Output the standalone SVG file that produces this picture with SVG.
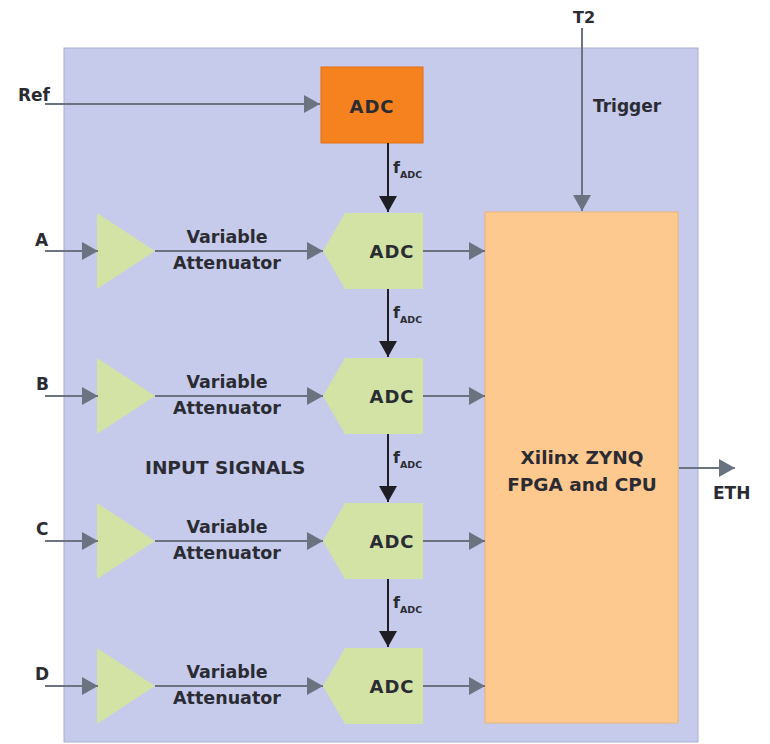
<svg xmlns="http://www.w3.org/2000/svg" width="770" height="744" viewBox="0 0 770 744">
<style>
text{font-family:"DejaVu Sans","Liberation Sans",sans-serif;fill:#2b2b33;font-weight:700}
.lbl{font-size:17px}
.att{font-size:17.5px;text-anchor:middle;font-weight:600}
.adc{font-size:18px;text-anchor:middle;letter-spacing:1px}
.big{font-size:18.5px;text-anchor:middle}
.g{stroke:#6b7380;stroke-width:2;fill:none}
.k{stroke:#1e1e24;stroke-width:2;fill:none}
.amp{fill:#d3e3a6}
.f{font-size:16px}
.sub{font-size:9.5px}
</style>
<defs>
<marker id="ag" markerUnits="userSpaceOnUse" markerWidth="18" markerHeight="20" refX="16" refY="9" orient="auto"><path d="M0,0 L16,9 L0,18 Z" fill="#6b7380"/></marker>
<marker id="ak" markerUnits="userSpaceOnUse" markerWidth="18" markerHeight="20" refX="16" refY="9" orient="auto"><path d="M0,0 L16,9 L0,18 Z" fill="#1e1e24"/></marker>
</defs>
<rect id="board" x="64" y="48" width="634" height="694" fill="#c6cbeb" stroke="#aab0d6" stroke-width="1"/>
<g id="fpga"><rect x="485" y="212" width="193" height="511" fill="#fdc98f" stroke="#e8b47a" stroke-width="1"/>
<text class="big" x="582" y="464">Xilinx ZYNQ</text><text class="big" x="582" y="491">FPGA and CPU</text></g>
<g id="refadc"><rect x="321" y="67" width="102" height="76" fill="#f5821f" stroke="#e07010" stroke-width="1"/><text class="adc" x="372" y="113">ADC</text></g>
<g id="rowA"><polygon class="amp" points="97,213 155,251 97,289"/><polygon class="amp" points="323,251 345,213 423,213 423,289 345,289"/><text class="adc" x="392" y="258">ADC</text></g>
<g id="rowB"><polygon class="amp" points="97,358 155,396 97,434"/><polygon class="amp" points="323,396 345,358 423,358 423,434 345,434"/><text class="adc" x="392" y="403">ADC</text></g>
<g id="rowC"><polygon class="amp" points="97,503 155,541 97,579"/><polygon class="amp" points="323,541 345,503 423,503 423,579 345,579"/><text class="adc" x="392" y="548">ADC</text></g>
<g id="rowD"><polygon class="amp" points="97,648 155,686 97,724"/><polygon class="amp" points="323,686 345,648 423,648 423,724 345,724"/><text class="adc" x="392" y="693">ADC</text></g>
<g id="connectors">
<line class="g" x1="45" y1="104" x2="320" y2="104" marker-end="url(#ag)"/>
<line class="g" x1="582" y1="28" x2="582" y2="211" marker-end="url(#ag)"/>
<line class="g" x1="679" y1="468" x2="735" y2="468" marker-end="url(#ag)"/>
<line class="k" x1="388" y1="143" x2="388" y2="212" marker-end="url(#ak)"/>
<line class="k" x1="388" y1="289" x2="388" y2="357" marker-end="url(#ak)"/>
<line class="k" x1="388" y1="434" x2="388" y2="502" marker-end="url(#ak)"/>
<line class="k" x1="388" y1="579" x2="388" y2="647" marker-end="url(#ak)"/>
<line class="g" x1="45" y1="251" x2="98" y2="251" marker-end="url(#ag)"/>
<line class="g" x1="155" y1="251" x2="323" y2="251" marker-end="url(#ag)"/>
<line class="g" x1="423" y1="251" x2="485" y2="251" marker-end="url(#ag)"/>
<line class="g" x1="45" y1="396" x2="98" y2="396" marker-end="url(#ag)"/>
<line class="g" x1="155" y1="396" x2="323" y2="396" marker-end="url(#ag)"/>
<line class="g" x1="423" y1="396" x2="485" y2="396" marker-end="url(#ag)"/>
<line class="g" x1="45" y1="541" x2="98" y2="541" marker-end="url(#ag)"/>
<line class="g" x1="155" y1="541" x2="323" y2="541" marker-end="url(#ag)"/>
<line class="g" x1="423" y1="541" x2="485" y2="541" marker-end="url(#ag)"/>
<line class="g" x1="45" y1="686" x2="98" y2="686" marker-end="url(#ag)"/>
<line class="g" x1="155" y1="686" x2="323" y2="686" marker-end="url(#ag)"/>
<line class="g" x1="423" y1="686" x2="485" y2="686" marker-end="url(#ag)"/>
</g>
<g id="labels">
<text class="lbl" x="18" y="101">Ref</text>
<text class="lbl" x="573" y="23" style="font-size:16px">T2</text>
<text class="lbl" x="593" y="112">Trigger</text>
<text class="lbl" x="713" y="499">ETH</text>
<text class="lbl" x="35" y="246">A</text>
<text class="lbl" x="36" y="390">B</text>
<text class="lbl" x="36" y="535">C</text>
<text class="lbl" x="35" y="680">D</text>
<text class="lbl" x="145" y="474" style="font-size:18.5px">INPUT SIGNALS</text>
<text class="att" x="227" y="243">Variable</text><text class="att" x="227" y="269">Attenuator</text>
<text class="att" x="227" y="388">Variable</text><text class="att" x="227" y="414">Attenuator</text>
<text class="att" x="227" y="533">Variable</text><text class="att" x="227" y="559">Attenuator</text>
<text class="att" x="227" y="678">Variable</text><text class="att" x="227" y="704">Attenuator</text>
<text class="f" x="393" y="173">f<tspan class="sub" dy="5">ADC</tspan></text>
<text class="f" x="393" y="318">f<tspan class="sub" dy="5">ADC</tspan></text>
<text class="f" x="393" y="463">f<tspan class="sub" dy="5">ADC</tspan></text>
<text class="f" x="393" y="608">f<tspan class="sub" dy="5">ADC</tspan></text>
</g>
</svg>
